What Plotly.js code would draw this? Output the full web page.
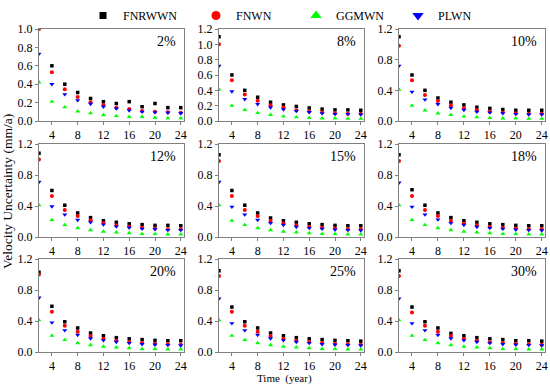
<!DOCTYPE html>
<html>
<head>
<meta charset="utf-8">
<script src="https://cdn.plot.ly/plotly-3.0.1.min.js"></script>
<style>html,body{margin:0;padding:0;background:#fff;}#chart{width:550px;height:385px;}</style>
</head>
<body>
<div id="chart"></div>
<script>
const years = [2, 4, 6, 8, 10, 12, 14, 16, 18, 20, 22, 24];
const panelLabels = ['2%', '8%', '10%', '12%', '15%', '18%', '20%', '25%', '30%'];
const seriesNames = ['FNRWWN', 'FNWN', 'GGMWN', 'PLWN'];
const yMax = [1.0, 1.2, 1.2, 1.2, 1.2, 1.2, 1.2, 1.2, 1.2];
const yDtick = [0.2, 0.2, 0.4, 0.4, 0.4, 0.4, 0.4, 0.4, 0.4];

const FNRWWN = [
  [1.08, 0.60, 0.40, 0.31, 0.245, 0.21, 0.19, 0.21, 0.155, 0.19, 0.145, 0.145],
  [1.10, 0.60, 0.40, 0.31, 0.245, 0.21, 0.19, 0.17, 0.155, 0.145, 0.145, 0.14],
  [1.10, 0.60, 0.40, 0.30, 0.245, 0.21, 0.18, 0.165, 0.15, 0.14, 0.14, 0.14],
  [1.08, 0.60, 0.41, 0.31, 0.25, 0.21, 0.19, 0.17, 0.16, 0.15, 0.15, 0.145],
  [1.06, 0.60, 0.41, 0.31, 0.245, 0.21, 0.19, 0.17, 0.16, 0.15, 0.145, 0.145],
  [1.06, 0.61, 0.41, 0.31, 0.25, 0.21, 0.19, 0.17, 0.16, 0.15, 0.145, 0.145],
  [1.03, 0.59, 0.39, 0.31, 0.245, 0.21, 0.185, 0.17, 0.16, 0.15, 0.145, 0.145],
  [1.05, 0.58, 0.39, 0.31, 0.245, 0.21, 0.185, 0.17, 0.16, 0.15, 0.145, 0.14],
  [1.05, 0.58, 0.39, 0.31, 0.24, 0.21, 0.185, 0.17, 0.16, 0.145, 0.145, 0.14]
];
const FNWN = [
  [1.00, 0.53, 0.345, 0.26, 0.205, 0.175, 0.145, 0.13, 0.11, 0.10, 0.095, 0.09],
  [1.00, 0.53, 0.345, 0.265, 0.205, 0.175, 0.14, 0.125, 0.11, 0.10, 0.095, 0.095],
  [0.98, 0.53, 0.34, 0.26, 0.205, 0.165, 0.14, 0.125, 0.11, 0.10, 0.095, 0.095],
  [1.00, 0.53, 0.35, 0.27, 0.215, 0.18, 0.15, 0.135, 0.12, 0.11, 0.10, 0.10],
  [0.98, 0.53, 0.35, 0.27, 0.21, 0.175, 0.15, 0.13, 0.12, 0.11, 0.10, 0.10],
  [0.98, 0.53, 0.35, 0.27, 0.21, 0.175, 0.15, 0.13, 0.12, 0.11, 0.10, 0.10],
  [1.00, 0.52, 0.34, 0.26, 0.205, 0.17, 0.145, 0.13, 0.115, 0.105, 0.10, 0.095],
  [0.98, 0.52, 0.34, 0.26, 0.205, 0.17, 0.145, 0.13, 0.115, 0.105, 0.10, 0.095],
  [0.98, 0.51, 0.34, 0.26, 0.205, 0.17, 0.145, 0.125, 0.115, 0.105, 0.10, 0.095]
];
const GGMWN = [
  [0.42, 0.21, 0.15, 0.105, 0.085, 0.065, 0.055, 0.045, 0.045, 0.035, 0.03, 0.03],
  [0.41, 0.20, 0.145, 0.105, 0.08, 0.06, 0.05, 0.04, 0.035, 0.035, 0.03, 0.03],
  [0.41, 0.20, 0.14, 0.10, 0.08, 0.06, 0.05, 0.04, 0.035, 0.035, 0.03, 0.03],
  [0.41, 0.22, 0.155, 0.115, 0.09, 0.07, 0.06, 0.05, 0.04, 0.04, 0.035, 0.035],
  [0.41, 0.21, 0.155, 0.115, 0.09, 0.07, 0.06, 0.05, 0.04, 0.04, 0.035, 0.035],
  [0.41, 0.22, 0.155, 0.115, 0.09, 0.07, 0.06, 0.05, 0.04, 0.04, 0.035, 0.035],
  [0.41, 0.21, 0.155, 0.115, 0.09, 0.07, 0.06, 0.05, 0.04, 0.04, 0.035, 0.035],
  [0.41, 0.21, 0.155, 0.115, 0.09, 0.07, 0.06, 0.05, 0.04, 0.04, 0.035, 0.035],
  [0.41, 0.21, 0.155, 0.115, 0.09, 0.07, 0.06, 0.05, 0.04, 0.04, 0.035, 0.035]
];
const PLWN = [
  [0.73, 0.40, 0.29, 0.225, 0.185, 0.155, 0.135, 0.115, 0.10, 0.095, 0.09, 0.085],
  [0.72, 0.385, 0.285, 0.22, 0.175, 0.15, 0.13, 0.115, 0.10, 0.09, 0.09, 0.085],
  [0.72, 0.38, 0.28, 0.22, 0.17, 0.145, 0.12, 0.11, 0.10, 0.09, 0.085, 0.085],
  [0.71, 0.395, 0.29, 0.22, 0.19, 0.16, 0.135, 0.12, 0.105, 0.10, 0.09, 0.09],
  [0.71, 0.39, 0.29, 0.22, 0.18, 0.155, 0.13, 0.115, 0.105, 0.095, 0.09, 0.085],
  [0.70, 0.39, 0.29, 0.225, 0.18, 0.155, 0.13, 0.115, 0.105, 0.095, 0.09, 0.085],
  [0.70, 0.38, 0.28, 0.22, 0.175, 0.15, 0.13, 0.115, 0.10, 0.095, 0.09, 0.085],
  [0.69, 0.37, 0.28, 0.22, 0.175, 0.15, 0.13, 0.115, 0.10, 0.095, 0.09, 0.085],
  [0.69, 0.37, 0.28, 0.22, 0.175, 0.15, 0.13, 0.115, 0.10, 0.095, 0.09, 0.085]
];

const seriesData = [FNRWWN, FNWN, GGMWN, PLWN];
const symbols = ['square', 'circle', 'triangle-up', 'triangle-down'];
const colors = ['#000000', '#ff0000', '#00ff00', '#0000ff'];
const sizes = [3.5, 4, 4.5, 4.5];
const legendSizes = [7, 9, 10, 10];

const W = 550, H = 385;
const colPx = [[39, 184], [219, 364], [399, 545]];
const rowPx = [[29, 121], [144, 237], [259, 352]];
const FONT = 'Liberation Serif';
const frameColor = '#808080';

const traces = [];
const layout = {
  width: W, height: H,
  margin: {l: 0, r: 0, t: 0, b: 0},
  paper_bgcolor: '#ffffff', plot_bgcolor: '#ffffff',
  font: {family: FONT, size: 12, color: '#000'},
  showlegend: true,
  annotations: []
};

const legendX = [105, 218, 318, 420];
legendX.forEach((px, i) => {
  const key = i === 0 ? 'legend' : 'legend' + (i + 1);
  layout[key] = {
    x: (px - 22) / W, y: 1 - 1 / H, xanchor: 'left', yanchor: 'top',
    bgcolor: 'rgba(0,0,0,0)', borderwidth: 0,
    font: {family: FONT, size: 12, color: '#000'},
    itemwidth: 30
  };
});

// legend-only entries (no data drawn), sized like the reference legend symbols
for (let s = 0; s < 4; s++) {
  traces.push({
    type: 'scatter', mode: 'markers', x: [null], y: [null],
    xaxis: 'x', yaxis: 'y', name: seriesNames[s],
    marker: {symbol: symbols[s], color: colors[s], size: legendSizes[s], line: {width: 0}},
    showlegend: true, legend: s === 0 ? 'legend' : 'legend' + (s + 1)
  });
}

for (let p = 0; p < 9; p++) {
  const r = Math.floor(p / 3), c = p % 3;
  const sfx = p === 0 ? '' : String(p + 1);
  const xa = 'x' + sfx, ya = 'y' + sfx;
  for (let s = 0; s < 4; s++) {
    traces.push({
      type: 'scatter', mode: 'markers',
      x: years, y: seriesData[s][p],
      xaxis: xa, yaxis: ya,
      name: seriesNames[s],
      marker: {symbol: symbols[s], color: colors[s], size: sizes[s], line: {width: 0}},
      showlegend: false
    });
  }
  const axCommon = {
    showline: true, mirror: true, linecolor: frameColor, linewidth: 1,
    ticks: 'outside', ticklen: 3, tickcolor: frameColor, tickwidth: 1,
    showgrid: false, zeroline: false, fixedrange: true,
    tickfont: {family: FONT, size: 12, color: '#000'}
  };
  layout['xaxis' + sfx] = Object.assign({}, axCommon, {
    domain: [colPx[c][0] / W, colPx[c][1] / W],
    anchor: ya, range: [2, 24.5], tickmode: 'array',
    tickvals: [4, 8, 12, 16, 20, 24], ticktext: ['4', '8', '12', '16', '20', '24']
  });
  layout['yaxis' + sfx] = Object.assign({}, axCommon, {
    domain: [1 - rowPx[r][1] / H, 1 - rowPx[r][0] / H],
    anchor: xa, range: [0, yMax[p]], dtick: yDtick[p], tick0: 0,
    tickformat: '.1f'
  });
  layout.annotations.push({
    xref: 'paper', yref: 'paper',
    x: (colPx[c][1] - 6) / W, y: 1 - (rowPx[r][0] + 12) / H,
    xanchor: 'right', yanchor: 'middle', showarrow: false,
    text: panelLabels[p], font: {family: FONT, size: 14, color: '#000'}
  });
}

layout.annotations.push({
  xref: 'paper', yref: 'paper', x: 284 / W, y: 1 - 378 / H,
  xanchor: 'center', yanchor: 'middle', showarrow: false,
  text: 'Time &nbsp;(year)', font: {family: FONT, size: 11, color: '#000'}
});
layout.annotations.push({
  xref: 'paper', yref: 'paper', x: 8 / W, y: 1 - 192 / H,
  xanchor: 'center', yanchor: 'middle', showarrow: false, textangle: -90,
  text: 'Velocity Uncertainty (mm/a)', font: {family: FONT, size: 13.5, color: '#000'}
});

Plotly.newPlot('chart', traces, layout, {displayModeBar: false, staticPlot: true});
</script>
</body>
</html>
